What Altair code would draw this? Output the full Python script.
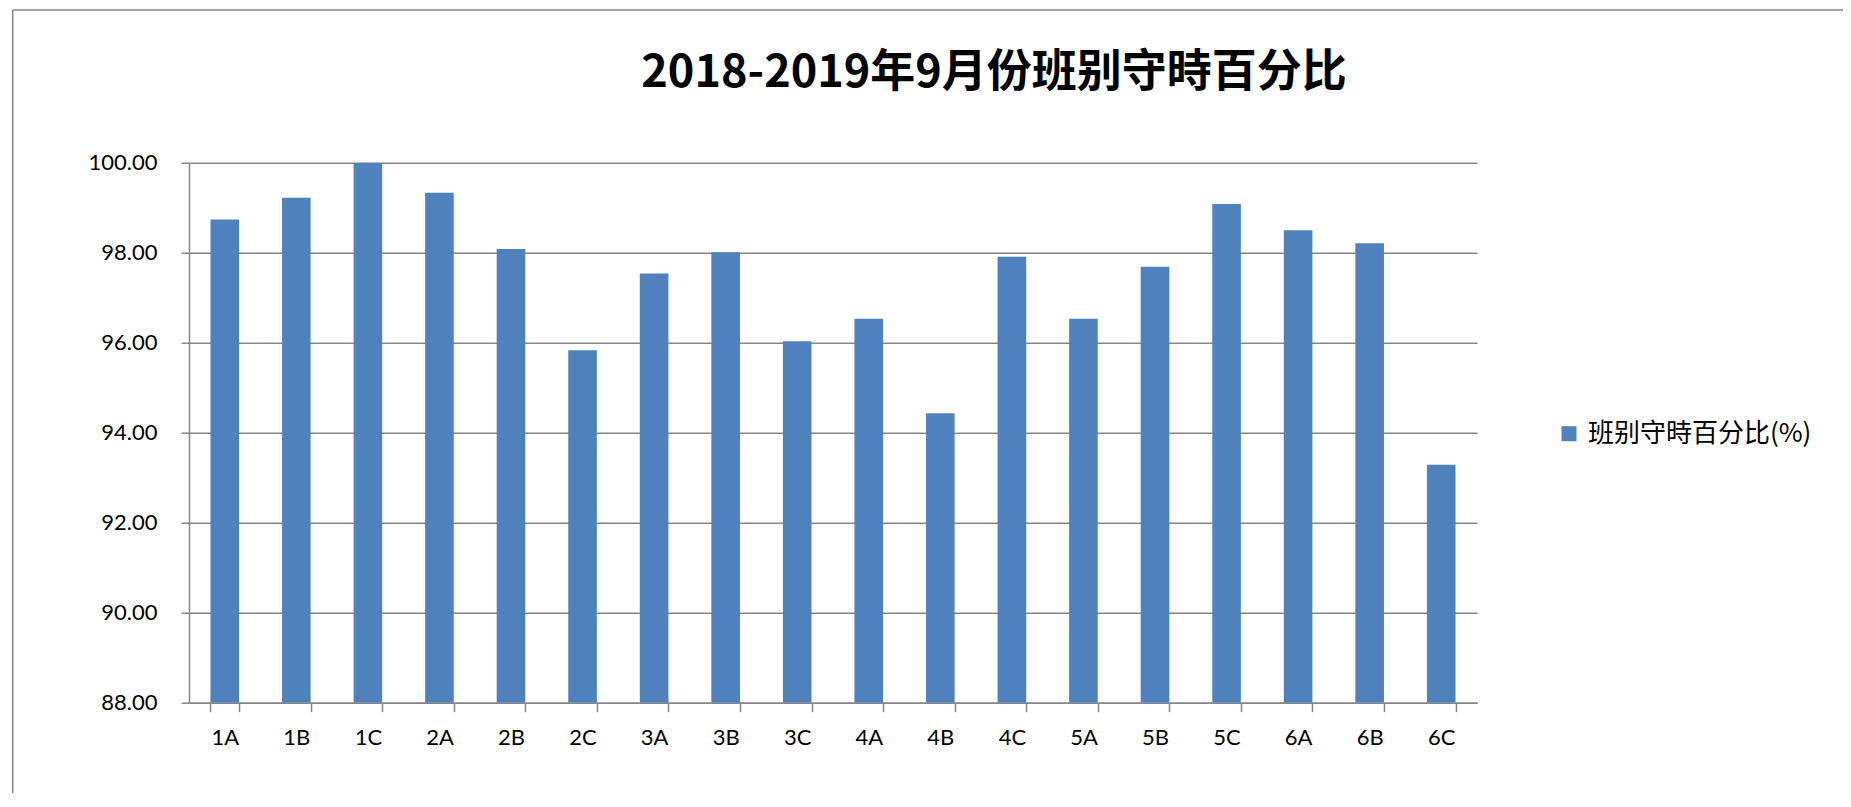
import altair as alt
import pandas as pd

classes = ["1A", "1B", "1C", "2A", "2B", "2C", "3A", "3B", "3C",
           "4A", "4B", "4C", "5A", "5B", "5C", "6A", "6B", "6C"]
values = [98.74, 99.22, 100.00, 99.33, 98.08, 95.83, 97.54, 98.01, 96.03,
          96.53, 94.43, 97.91, 96.53, 97.69, 99.08, 98.50, 98.21, 93.29]
series_name = "班别守時百分比(%)"
title_text = "2018-2019年9月份班别守時百分比"
y_ticks = [88, 90, 92, 94, 96, 98, 100]

df = pd.DataFrame({"cls": classes, "val": values, "series": [series_name] * len(classes)})

GRAY = "#868686"
BLUE = "#4F81BD"
LATIN = "Lato"
CJK = "Noto Sans CJK SC"

bars = alt.Chart(df).mark_bar(color=BLUE, clip=True).encode(
    x=alt.X("cls:N", sort=classes, title=None,
            scale=alt.Scale(paddingInner=0.6, paddingOuter=0.3),
            axis=alt.Axis(labelAngle=0, tickBand="extent", tickSize=9,
                          tickColor=GRAY, tickWidth=1.5, domainColor=GRAY,
                          domainWidth=1.5, labelPadding=16, labelFont=LATIN,
                          labelFontSize=22, labelColor="black", grid=False)),
    y=alt.Y("val:Q", title=None,
            scale=alt.Scale(domain=[88, 100], zero=False, nice=False),
            axis=alt.Axis(values=y_ticks, format=".2f", tickSize=8,
                          tickColor=GRAY, tickWidth=1.5, domainColor=GRAY,
                          domainWidth=1.5, gridColor=GRAY, gridWidth=1.5,
                          grid=True, labelPadding=24, labelFont=LATIN,
                          labelFontSize=22, labelColor="black")),
    y2=alt.datum(88),
    color=alt.Color("series:N",
                    scale=alt.Scale(domain=[series_name], range=[BLUE]),
                    legend=alt.Legend(title=None, orient="none", legendX=1367,
                                      legendY=258, symbolType="square",
                                      symbolSize=225, symbolStrokeWidth=0,
                                      labelFont=CJK, labelFontSize=26,
                                      labelColor="black", labelLimit=0,
                                      labelOffset=6)),
)

frame_src = alt.Data(values=[{"k": 1}])
top_line = alt.Chart(frame_src).mark_rule(color=GRAY, strokeWidth=1.5).encode(
    x=alt.value(-176.3), x2=alt.value(1700), y=alt.value(-152.7))
left_line = alt.Chart(frame_src).mark_rule(color=GRAY, strokeWidth=1.5).encode(
    x=alt.value(-176.3), y=alt.value(-152.7), y2=alt.value(700))

chart = alt.layer(bars, top_line, left_line).properties(
    width=1288,
    height=540,
    padding={"left": 181, "top": 154.7, "right": 366, "bottom": 90},
    autosize=alt.AutoSizeParams(type="none"),
    background="white",
    title=alt.TitleParams(title_text, font=CJK, fontSize=45, fontWeight="bold",
                          color="black", anchor="middle", dx=161, offset=0,
                          dy=123, baseline="alphabetic"),
).configure_view(stroke="transparent")

chart.save("out.html", embed_options={"renderer": "svg", "actions": False})
